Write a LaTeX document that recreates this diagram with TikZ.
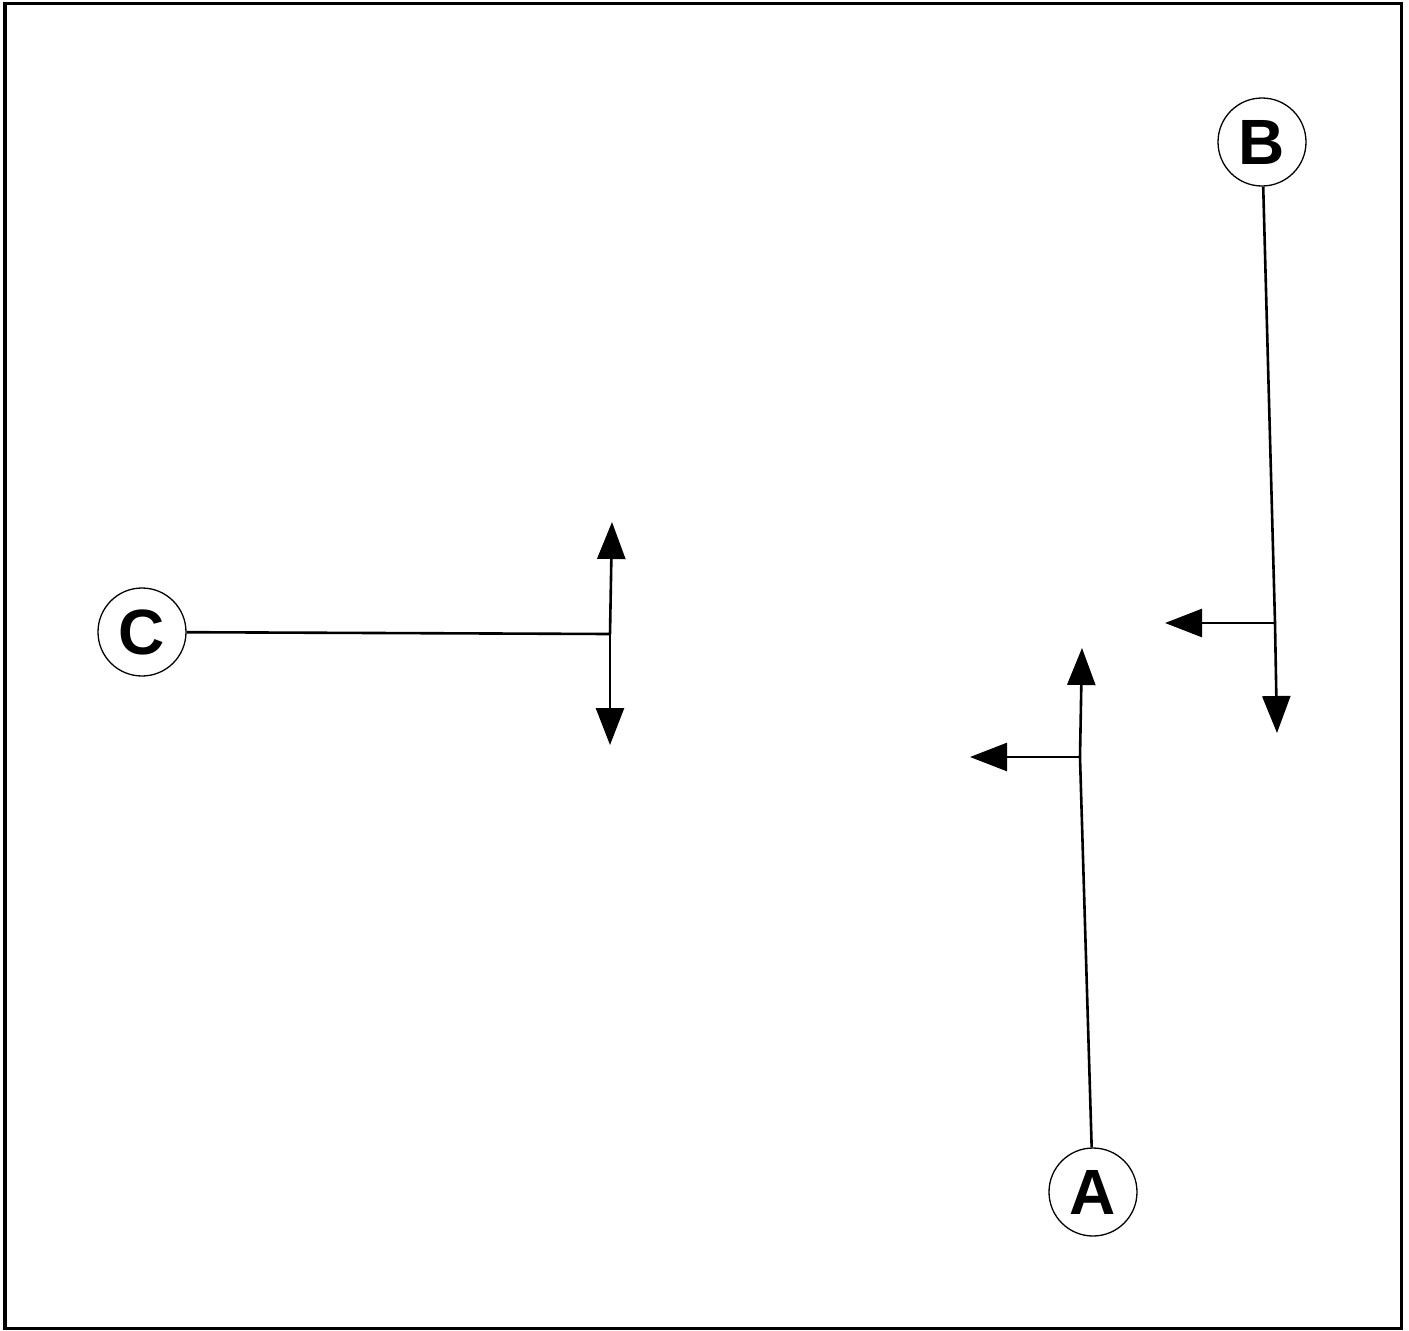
\documentclass[tikz,border=0pt]{standalone}
\usepackage{fontspec}
\setmainfont{Liberation Sans}
\usetikzlibrary{arrows.meta}
\begin{document}
\begin{tikzpicture}[x=1pt,y=-1pt,
  lbl/.style={circle,draw,line width=1.3pt,minimum size=88pt,inner sep=0pt,
    font=\fontsize{64}{64}\selectfont\bfseries},
  conn/.style={line width=2.6pt},
  arr/.style={conn,-{Triangle[length=37pt,width=28pt]}}]
\useasboundingbox (0,0) rectangle (1409,1331);
\draw[line width=3.5pt] (5,3.5) rectangle (1401.5,1328.5);
\node[lbl] (A) at (1093,1192) {A};
\node[lbl] (B) at (1262,142) {B};
\node[lbl] (C) at (142,632) {C};
\coordinate (ja) at (1080,757);
\coordinate (tau) at (1082,648);
\coordinate (tal) at (970,757);
\coordinate (jb) at (1275,623);
\coordinate (tbd) at (1277,733);
\coordinate (tbl) at (1165,623);
\coordinate (jc) at (610,634);
\coordinate (tcu) at (612,522);
\coordinate (tcd) at (610,745);
\draw[conn] (A) -- (ja);
\draw[arr] (ja) -- (tau);
\draw[arr] (ja) -- (tal);
\draw[conn] (B) -- (jb);
\draw[arr] (jb) -- (tbd);
\draw[arr] (jb) -- (tbl);
\draw[conn] (C) -- (jc);
\draw[arr] (jc) -- (tcu);
\draw[arr] (jc) -- (tcd);
\end{tikzpicture}
\end{document}
